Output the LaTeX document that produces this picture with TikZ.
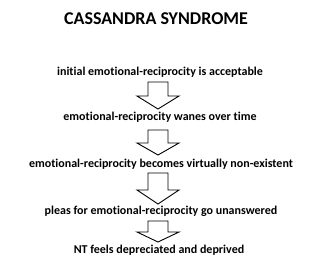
\documentclass[tikz,border=0pt]{standalone}
\usepackage{fontspec}
\setmainfont{Carlito}[Ligatures=NoCommon]
\usetikzlibrary{positioning}

\begin{document}
\begin{tikzpicture}[x=1pt, y=-1pt,
  stage/.style={anchor=base, inner sep=0pt, font=\bfseries\fontsize{12}{14}\selectfont},
  ttl/.style={anchor=base, inner sep=0pt, font=\bfseries\fontsize{18}{21}\selectfont},
  blk/.style={draw, line width=0.9pt, fill=white, line join=miter}]
  \useasboundingbox (0,0) rectangle (320,280);
  \node[ttl] (title) at (156,25) {CASSANDRA SYNDROME};
  \node[stage] (s1) at (160,76) {initial emotional-reciprocity is acceptable};
  \node[stage] (s2) at (160,121) {emotional-reciprocity wanes over time};
  \node[stage] (s3) at (161,167) {emotional-reciprocity becomes virtually non-existent};
  \node[stage] (s4) at (161,214) {pleas for emotional-reciprocity go unanswered};
  \node[stage] (s5) at (159,253) {NT feels depreciated and deprived};
  % block arrows: top, shoulder, tip
  \foreach \t/\s/\p in {82/96/109, 130/143/155, 173/190/204, 221/232/242}
    \draw[blk] (148,\t) -- (168,\t) -- (168,\s) -- (179,\s) -- (158,\p)
      -- (137,\s) -- (148,\s) -- cycle;
\end{tikzpicture}
\end{document}
